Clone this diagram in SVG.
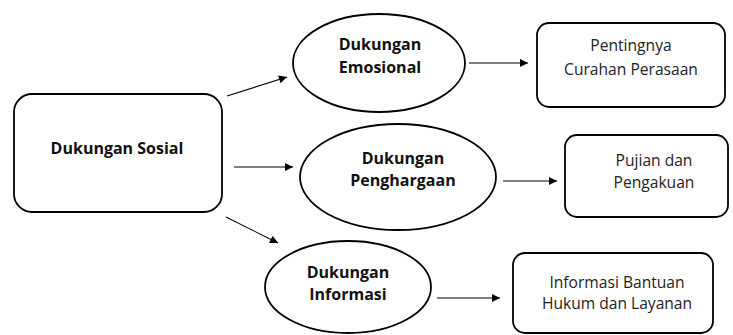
<svg xmlns="http://www.w3.org/2000/svg" width="733" height="335" viewBox="0 0 733 335">
<style>
.box{fill:#fff;stroke:#000;stroke-width:1.8}
.ell{fill:#fff;stroke:#000;stroke-width:1.8}
.b{font-family:"Open Sans","Liberation Sans",sans-serif;font-weight:bold;font-size:16px;fill:#111;text-anchor:middle}
.r{font-family:"Open Sans","Liberation Sans",sans-serif;font-size:15.6px;fill:#222;text-anchor:middle}
.c line{stroke:#000;stroke-width:1.1;marker-end:url(#ah)}
</style>
<defs>
<marker id="ah" viewBox="0 0 10 10" refX="10" refY="5" markerWidth="10" markerHeight="8" markerUnits="userSpaceOnUse" orient="auto">
<path d="M0,0 L10,5 L0,10 z" fill="#000"/>
</marker>
</defs>
<rect width="733" height="335" fill="#fff"/>
<g id="n-sosial">
<rect class="box" x="14" y="94" width="208" height="118" rx="18"/>
<text class="b" x="117" y="154">Dukungan Sosial</text>
</g>
<g id="n-emosional">
<ellipse class="ell" cx="379" cy="63" rx="86" ry="49"/>
<text class="b" x="380" y="50">Dukungan</text>
<text class="b" x="380" y="73">Emosional</text>
</g>
<g id="n-penghargaan">
<ellipse class="ell" cx="398" cy="177" rx="98" ry="53"/>
<text class="b" x="403" y="164">Dukungan</text>
<text class="b" x="403" y="186">Penghargaan</text>
</g>
<g id="n-informasi">
<ellipse class="ell" cx="348" cy="287" rx="83" ry="46"/>
<text class="b" x="348" y="278">Dukungan</text>
<text class="b" x="348" y="300">Informasi</text>
</g>
<g id="n-curahan">
<rect class="box" x="537" y="23" width="188" height="84" rx="12"/>
<text class="r" x="631" y="51">Pentingnya</text>
<text class="r" x="631" y="75">Curahan Perasaan</text>
</g>
<g id="n-pujian">
<rect class="box" x="565" y="135" width="163" height="82" rx="12"/>
<text class="r" x="654" y="166">Pujian dan</text>
<text class="r" x="654" y="188">Pengakuan</text>
</g>
<g id="n-bantuan">
<rect class="box" x="513" y="253" width="200" height="80" rx="12"/>
<text class="r" x="617" y="288">Informasi Bantuan</text>
<text class="r" x="617" y="309">Hukum dan Layanan</text>
</g>
<g id="connectors" class="c">
<line x1="227" y1="96" x2="287" y2="77"/>
<line x1="234" y1="167" x2="293" y2="167"/>
<line x1="226" y1="217" x2="278" y2="243"/>
<line x1="469" y1="63" x2="528" y2="63"/>
<line x1="503" y1="181" x2="557" y2="181"/>
<line x1="437" y1="298" x2="500" y2="298"/>
</g>
</svg>
